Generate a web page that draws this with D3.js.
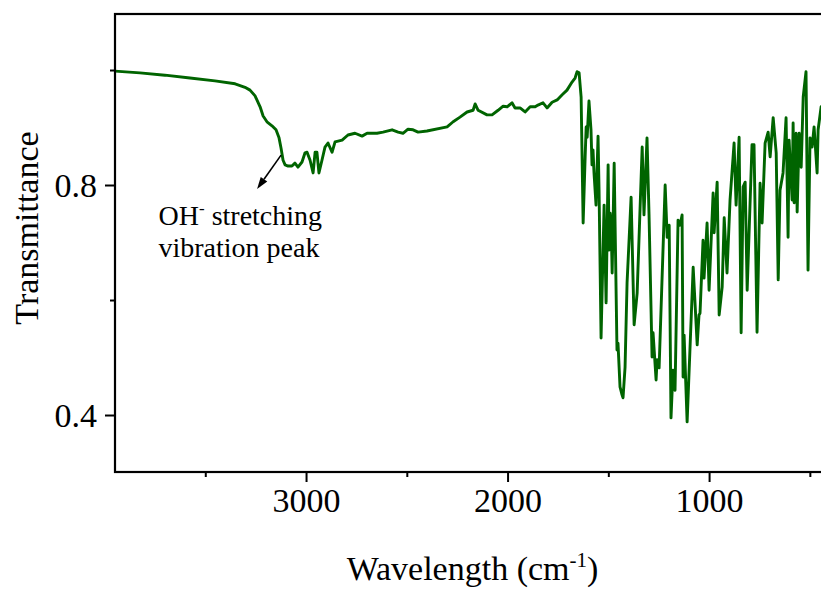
<!DOCTYPE html>
<html>
<head>
<meta charset="utf-8">
<script src="https://cdn.jsdelivr.net/npm/d3@7/dist/d3.min.js"></script>
<style>
  body { margin: 0; background: #fff; }
  svg { display: block; }
  text { font-family: "Liberation Serif", "Times New Roman", serif; fill: #000; }
</style>
</head>
<body>
<svg id="chart" width="821" height="589"></svg>
<script>
// FTIR spectrum: wavenumber (cm-1) and transmittance
const wavenumber = [
  3948, 3824, 3700, 3576, 3452, 3352, 3303, 3278, 3253, 3228, 3213, 3194, 3169, 3149, 3134, 3124,
  3114, 3104, 3089, 3070, 3055, 3040, 3020, 3005, 2995, 2980, 2965, 2955, 2946, 2936, 2921, 2906,
  2891, 2871, 2856, 2821, 2792, 2757, 2722, 2697, 2648, 2618, 2573, 2543, 2519, 2494, 2469, 2444,
  2400, 2300, 2270, 2236, 2201, 2171, 2161, 2146, 2102, 2077, 2047, 2022, 2002, 1978, 1963, 1938,
  1913, 1888, 1863, 1849, 1824, 1804, 1779, 1754, 1729, 1705, 1680, 1665, 1655, 1645, 1635, 1625,
  1615, 1610, 1605, 1596, 1586, 1581, 1576, 1571, 1561, 1551, 1546, 1536, 1521, 1511, 1501, 1496,
  1491, 1486, 1481, 1471, 1457, 1452, 1442, 1432, 1427, 1417, 1407, 1387, 1372, 1357, 1332, 1323,
  1308, 1298, 1283, 1278, 1263, 1258, 1248, 1218, 1208, 1198, 1189, 1179, 1169, 1154, 1144, 1134,
  1129, 1124, 1109, 1079, 1059, 1050, 1045, 1030, 1025, 1010, 1000, 980, 975, 960, 950, 935,
  925, 911, 896, 876, 866, 851, 841, 831, 821, 811, 787, 777, 762, 747, 737, 722,
  707, 697, 682, 667, 657, 648, 633, 618, 608, 603, 588, 583, 578, 568, 563, 553,
  543, 533, 519, 509, 499, 489, 479, 464, 459, 444, 400
];
const transmittance = [
  0.998, 0.995, 0.991, 0.986, 0.981, 0.976, 0.970, 0.965, 0.955, 0.936, 0.920, 0.910, 0.903, 0.896, 0.882, 0.864,
  0.843, 0.835, 0.833, 0.833, 0.838, 0.831, 0.840, 0.856, 0.857, 0.843, 0.821, 0.857, 0.857, 0.821, 0.843, 0.866,
  0.873, 0.857, 0.875, 0.878, 0.887, 0.890, 0.885, 0.890, 0.890, 0.892, 0.896, 0.892, 0.890, 0.897, 0.896, 0.892,
  0.894, 0.901, 0.910, 0.918, 0.927, 0.930, 0.941, 0.930, 0.922, 0.922, 0.930, 0.937, 0.936, 0.943, 0.934, 0.934,
  0.927, 0.936, 0.936, 0.939, 0.943, 0.934, 0.944, 0.948, 0.957, 0.965, 0.979, 0.986, 0.997, 0.995, 0.953, 0.734,
  0.849, 0.901, 0.883, 0.946, 0.896, 0.835, 0.861, 0.821, 0.765, 0.885, 0.791, 0.534, 0.765, 0.595, 0.835, 0.687,
  0.751, 0.730, 0.647, 0.838, 0.513, 0.525, 0.449, 0.435, 0.430, 0.483, 0.630, 0.779, 0.557, 0.612, 0.866, 0.748,
  0.882, 0.748, 0.501, 0.543, 0.461, 0.496, 0.482, 0.800, 0.709, 0.730, 0.395, 0.478, 0.443, 0.739, 0.730, 0.748,
  0.466, 0.539, 0.388, 0.657, 0.522, 0.574, 0.577, 0.704, 0.638, 0.734, 0.617, 0.786, 0.717, 0.805, 0.574, 0.623,
  0.743, 0.647, 0.774, 0.873, 0.765, 0.883, 0.543, 0.797, 0.805, 0.617, 0.870, 0.870, 0.544, 0.803, 0.734, 0.873,
  0.892, 0.849, 0.917, 0.856, 0.635, 0.791, 0.821, 0.917, 0.709, 0.878, 0.774, 0.908, 0.769, 0.890, 0.753, 0.890,
  0.831, 0.953, 0.997, 0.652, 0.882, 0.866, 0.901, 0.821, 0.896, 0.936, 0.920
];

// Axis ticks
const xMajorTicks = [3000, 2000, 1000];
const xMinorTicks = [3500, 2500, 1500, 500];
const yMajorTicks = [0.8, 0.4];
const yMinorTicks = [1.0, 0.6];

const xTitle = "Wavelength (cm";
const xTitleSup = "-1";
const yTitle = "Transmittance";
const noteLine1 = ["OH", "-", " stretching"];
const noteLine2 = "vibration peak";

const svg = d3.select("#chart");
const plotLeft = 115, plotRight = 830, plotTop = 14, plotBottom = 472;

const x = d3.scaleLinear().domain([3948, 400]).range([plotLeft, plotRight]);
const y = d3.scaleLinear().domain([0.3009, 1.0974]).range([plotBottom, plotTop]);

// clip region for the spectrum
svg.append("defs").append("clipPath").attr("id", "plotClip")
  .append("rect").attr("x", plotLeft).attr("y", plotTop)
  .attr("width", plotRight - plotLeft).attr("height", plotBottom - plotTop);

// spectrum
const pts = wavenumber.map((w, i) => [w, transmittance[i]]);
svg.append("path")
  .datum(pts)
  .attr("clip-path", "url(#plotClip)")
  .attr("fill", "none")
  .attr("stroke", "#006400")
  .attr("stroke-width", 2.9)
  .attr("stroke-linejoin", "round")
  .attr("stroke-linecap", "round")
  .attr("d", d3.line().x(d => x(d[0])).y(d => y(d[1])));

// axes
const fontSize = 34;
const gx = svg.append("g").attr("transform", `translate(0,${plotBottom})`)
  .call(d3.axisBottom(x).tickValues(xMajorTicks).tickSize(10).tickSizeOuter(0).tickPadding(6).tickFormat(d3.format("d")));
const gxm = svg.append("g").attr("transform", `translate(0,${plotBottom})`)
  .call(d3.axisBottom(x).tickValues(xMinorTicks).tickSize(5).tickSizeOuter(0).tickFormat(""));
const gy = svg.append("g").attr("transform", `translate(${plotLeft},0)`)
  .call(d3.axisLeft(y).tickValues(yMajorTicks).tickSize(10).tickSizeOuter(0).tickPadding(8).tickFormat(d3.format(".1f")));
const gym = svg.append("g").attr("transform", `translate(${plotLeft},0)`)
  .call(d3.axisLeft(y).tickValues(yMinorTicks).tickSize(5).tickSizeOuter(0).tickFormat(""));

[gx, gxm, gy, gym].forEach(g => {
  g.selectAll("path.domain").remove();
  g.selectAll("line").attr("stroke", "#000").attr("stroke-width", 2);
  g.selectAll("text").attr("font-family", "Liberation Serif").attr("font-size", fontSize).attr("fill", "#000");
});
gx.selectAll("text").attr("dy", "0.71em");
gy.selectAll("text").attr("dy", "0.34em");

// frame
svg.append("rect")
  .attr("x", plotLeft).attr("y", plotTop)
  .attr("width", plotRight - plotLeft).attr("height", plotBottom - plotTop)
  .attr("fill", "none").attr("stroke", "#000").attr("stroke-width", 2.2);

// axis titles
const xt = svg.append("text")
  .attr("x", (plotLeft + plotRight) / 2).attr("y", 580)
  .attr("text-anchor", "middle").attr("font-size", 34);
xt.append("tspan").text(xTitle);
xt.append("tspan").attr("font-size", 21).attr("dy", -13).text(xTitleSup);
xt.append("tspan").attr("dy", 13).text(")");

svg.append("text")
  .attr("transform", `translate(38,228) rotate(-90)`)
  .attr("text-anchor", "middle").attr("font-size", 34)
  .text(yTitle);

// annotation arrow and label
const arrowFrom = [3124, 0.852], arrowTo = [3243, 0.793];
const ax1 = x(arrowFrom[0]), ay1 = y(arrowFrom[1]);
const ax2 = x(arrowTo[0]), ay2 = y(arrowTo[1]);
const ang = Math.atan2(ay2 - ay1, ax2 - ax1);
const headLen = 12, headW = 4;
const bx = ax2 - headLen * Math.cos(ang), by = ay2 - headLen * Math.sin(ang);
svg.append("line")
  .attr("x1", ax1).attr("y1", ay1).attr("x2", bx).attr("y2", by)
  .attr("stroke", "#000").attr("stroke-width", 1.6);
svg.append("path")
  .attr("d", `M${ax2},${ay2} L${bx + headW * Math.sin(ang)},${by - headW * Math.cos(ang)} L${bx - headW * Math.sin(ang)},${by + headW * Math.cos(ang)} Z`)
  .attr("fill", "#000");

const note = svg.append("text").attr("x", x(3732)).attr("y", y(0.730)).attr("font-size", 28);
note.append("tspan").text(noteLine1[0]);
note.append("tspan").attr("font-size", 17).attr("dy", -11).text(noteLine1[1]);
note.append("tspan").attr("dy", 11).text(noteLine1[2]);
svg.append("text").attr("x", x(3732)).attr("y", y(0.730) + 32).attr("font-size", 28).text(noteLine2);
</script>
</body>
</html>
